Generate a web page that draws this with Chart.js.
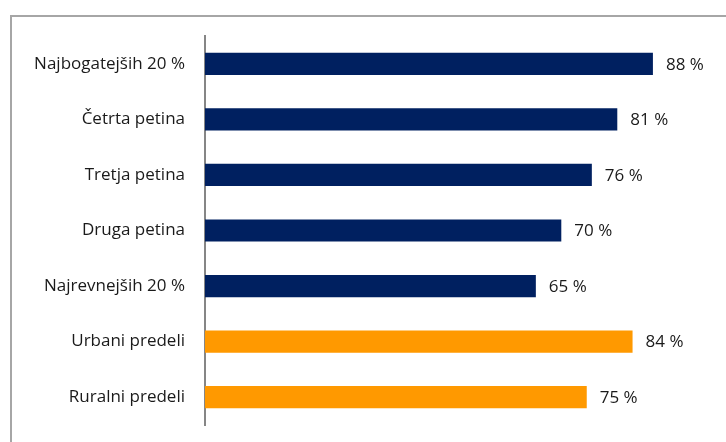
<!DOCTYPE html>
<html>
<head>
<meta charset="utf-8">
<script src="https://cdn.jsdelivr.net/npm/chart.js@4/dist/chart.umd.min.js"></script>
<style>
  html, body { margin: 0; padding: 0; background: #fff; }
  #wrap { position: relative; width: 726px; height: 442px; }
  #frame { position: absolute; left: 10px; top: 15px; right: 0; bottom: 0;
           border-top: 2px solid #a6a6a6; border-left: 2px solid #a6a6a6; }
  canvas { position: absolute; left: 0; top: 0; }
</style>
</head>
<body>
<div id="wrap">
  <div id="frame"></div>
  <canvas id="c" width="726" height="442"></canvas>
</div>
<script>
// Share of households by income quintile and settlement type
const categories = [
  'Najbogatejših 20 %',
  'Četrta petina',
  'Tretja petina',
  'Druga petina',
  'Najrevnejših 20 %',
  'Urbani predeli',
  'Ruralni predeli'
];
const values = [88, 81, 76, 70, 65, 84, 75];
const barColors = ['#002060', '#002060', '#002060', '#002060', '#002060', '#FF9900', '#FF9900'];

const FONT = '"Open Sans", Lato, sans-serif';

// Writes "NN %" just past the end of each bar
const valueLabels = {
  id: 'valueLabels',
  afterDatasetsDraw(chart) {
    const ctx = chart.ctx;
    const meta = chart.getDatasetMeta(0);
    ctx.save();
    ctx.font = '17px ' + FONT;
    ctx.fillStyle = '#1a1a1a';
    ctx.textAlign = 'left';
    ctx.textBaseline = 'middle';
    meta.data.forEach((bar, i) => {
      ctx.fillText(values[i] + ' %', bar.x + 13, bar.y + 1);
    });
    ctx.restore();
  }
};

new Chart(document.getElementById('c'), {
  type: 'bar',
  data: {
    labels: categories,
    datasets: [{
      data: values,
      backgroundColor: barColors,
      borderWidth: 0,
      barPercentage: 0.4,
      categoryPercentage: 1.0
    }]
  },
  options: {
    indexAxis: 'y',
    responsive: false,
    animation: false,
    events: [],
    layout: { padding: { top: 36, bottom: 17, right: 12, left: 0 } },
    plugins: { legend: { display: false }, tooltip: { enabled: false } },
    scales: {
      x: {
        min: 0, max: 100,
        display: false
      },
      y: {
        grid: { display: false, drawTicks: false },
        border: { display: true, color: '#868686', width: 2 },
        ticks: {
          color: '#1a1a1a',
          font: { family: FONT, size: 17 },
          padding: 20
        },
        afterFit(scale) {
          scale.width = 205;
          scale.paddingTop = 0;
          scale.paddingBottom = 0;
        }
      }
    }
  },
  plugins: [valueLabels]
});
</script>
</body>
</html>
